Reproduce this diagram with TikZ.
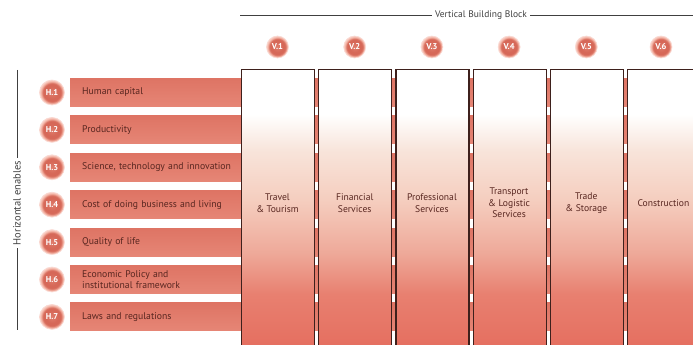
\documentclass[tikz,border=0pt]{standalone}
\usepackage{fontspec}
\setmainfont{PT Sans}
\definecolor{cB}{RGB}{229,110,95}
\definecolor{cA}{RGB}{232,128,112}
\definecolor{cC}{RGB}{238,168,152}
\definecolor{cD}{RGB}{245,205,190}
\definecolor{cE}{RGB}{248,228,218}
\definecolor{barTop}{RGB}{222,116,100}
\definecolor{barBot}{RGB}{230,134,118}
\definecolor{txtbrown}{RGB}{88,38,32}
\definecolor{edge}{RGB}{62,32,28}
\definecolor{ringc}{RGB}{244,180,165}
\definecolor{ballc}{RGB}{214,104,88}
\definecolor{ballm}{RGB}{224,125,108}
\pgfdeclareverticalshading{colshade}{100bp}{color(0bp)=(cB); color(25bp)=(cB); color(35bp)=(cA); color(42bp)=(cC); color(51.5bp)=(cD); color(60.5bp)=(cE); color(67bp)=(white); color(100bp)=(white)}
\pgfdeclareradialshading{ballshade}{\pgfpoint{0bp}{0bp}}{color(0bp)=(ballm); color(12bp)=(ballc); color(18bp)=(ballc); color(22bp)=(ringc); color(25bp)=(white!40!ringc); color(50bp)=(white)}
\tikzset{
  colbox/.style={draw=edge, line width=1.1pt, shading=colshade, minimum width=73pt, minimum height=280pt, anchor=north west, inner sep=0pt},
  coltext/.style={text=txtbrown, font=\fontsize{9.6}{11.5}\selectfont, align=center},
  barbox/.style={anchor=west, minimum width=623pt, minimum height=28pt, inner ysep=0pt, inner xsep=12pt, text width=599pt, align=left, top color=barTop, bottom color=barBot, text=txtbrown, font=\fontsize{9.7}{10.5}\selectfont},
  hball/.style={circle, minimum size=25pt, inner sep=0pt, shading=ballshade, draw=white!50!ringc, line width=0.6pt, text=white, font=\fontsize{8.5}{9}\selectfont\bfseries},
  vball/.style={hball, minimum size=22pt},
  rule/.style={draw=black!75, line width=0.5pt},
  ttl/.style={text=black!75, font=\fontsize{9.5}{11}\selectfont, inner sep=3pt}
}
\begin{document}
\begin{tikzpicture}[x=1pt,y=-1pt]
\useasboundingbox (0,0) rectangle (693,345);
\fill[white] (0,0) rectangle (693,345);
% horizontal bars
\foreach \i/\t in {1/Human capital, 2/Productivity, 3/{Science, technology and innovation}, 4/Cost of doing business and living, 5/Quality of life, 6/{Economic Policy and\\institutional framework}, 7/Laws and regulations}{
  \node[barbox] (bar\i) at (70,{92.5+37.4*(\i-1)}) {\t};
  \node[hball] (h\i) at (52,{92.5+37.4*(\i-1)}) {H.\i};
}
% columns
\foreach \i/\t in {1/{Travel\\\& Tourism}, 2/{Financial\\Services}, 3/{Professional\\Services}, 4/{Transport\\\& Logistic\\Services}, 5/{Trade\\\& Storage}}{
  \node[colbox] (col\i) at ({241+77.2*(\i-1)},69) {};
  \node[coltext] (ct\i) at ({277.5+77.2*(\i-1)},203) {\t};
  \node[vball] (v\i) at ({277.5+77.2*(\i-1)},47) {V.\i};
}
\node[colbox] (col6) at (627,69) {};
\node[coltext, anchor=west] (ct6) at (634,203) {Construction};
\node[vball] (v6) at (661,47) {V.6};
% title
\node[ttl] (vtitle) at (481,15) {Vertical Building Block};
\coordinate (tl) at (240,15);
\coordinate (tr) at (693,15);
\draw[rule] (tl) -- (vtitle.west);
\draw[rule] (vtitle.east) -- (tr);
% side label
\node[ttl, rotate=90, font=\fontsize{10.5}{12}\selectfont] (htitle) at (17,203) {Horizontal enables};
\coordinate (hl) at (17,70);
\coordinate (hb) at (17,330);
\draw[rule] (hl) -- (htitle.east);
\draw[rule] (htitle.west) -- (hb);
\end{tikzpicture}
\end{document}
